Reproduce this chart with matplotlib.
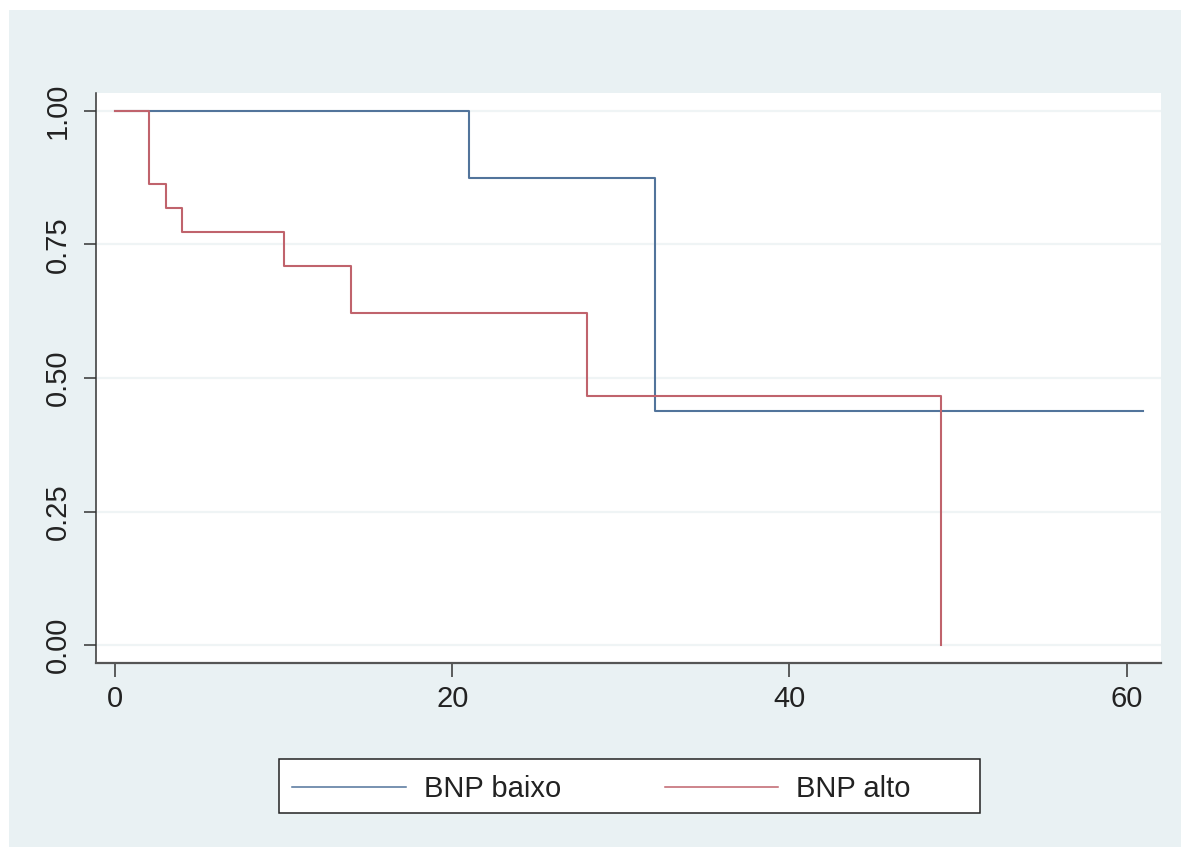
import matplotlib
matplotlib.use("Agg")
import matplotlib.pyplot as plt
from matplotlib.patches import Rectangle

plt.rcParams['font.family'] = ['Liberation Sans', 'DejaVu Sans']

# Kaplan-Meier survival steps
baixo_t = [0, 21, 32, 61]
baixo_s = [1.0, 0.875, 0.4375, 0.4375]

alto_t = [0, 2, 3, 4, 10, 14, 28, 49]
alto_s = [1.0, 0.8636, 0.8182, 0.7727, 0.709, 0.621, 0.466, 0.0]

labels = ["BNP baixo", "BNP alto"]
x_ticks = [0, 20, 40, 60]
y_ticks = [0.0, 0.25, 0.5, 0.75, 1.0]

bg = '#e9f1f3'
blue = '#52749b'
red = '#c0636c'
W, H = 1181, 847

fig = plt.figure(figsize=(W / 100, H / 100), dpi=100, facecolor='white')
fig.patches.append(Rectangle((9 / W, 0), 1, 1 - 10 / H, transform=fig.transFigure,
                             facecolor=bg, edgecolor='none', zorder=-10))

ax = fig.add_axes([96 / W, 1 - 663 / H, (1161 - 96) / W, (663 - 93) / H])
ax.set_facecolor('white')

for y in y_ticks:
    ax.axhline(y, color='#eff4f5', lw=1.6, zorder=0)

l1, = ax.step(baixo_t, baixo_s, where='post', color=blue, lw=1.5, zorder=3)
l2, = ax.step(alto_t, alto_s, where='post', color=red, lw=1.5, zorder=4)

ax.set_xlim(-1.13, 62.04)
ax.set_ylim(-0.0337, 1.0337)
ax.set_xticks(x_ticks)
ax.set_yticks(y_ticks)
ax.set_yticklabels([f"{v:.2f}" for v in y_ticks], rotation=90, va='center')

for s in ['top', 'right']:
    ax.spines[s].set_visible(False)
ax.spines['left'].set_color('#333333')
ax.spines['left'].set_linewidth(1.1)
ax.spines['bottom'].set_color('#555555')
ax.spines['bottom'].set_linewidth(1.6)

ax.tick_params(axis='x', length=10, width=1.1, pad=6, labelsize=21,
               color='#333333', labelcolor='#222222')
ax.tick_params(axis='y', length=8.6, width=1.1, pad=8.5, labelsize=21,
               color='#333333', labelcolor='#222222')

# legend frame drawn as a figure rectangle
fig.patches.append(Rectangle((279 / W, 1 - 813 / H), (980 - 279) / W, (813 - 759) / H,
                             transform=fig.transFigure, facecolor='white',
                             edgecolor='#222222', lw=1.1, zorder=-5))
leg = fig.legend([l1, l2], labels, loc='center left', ncol=2, frameon=False,
                 bbox_to_anchor=(292 / W, 1 - 789 / H), borderaxespad=0, borderpad=0,
                 handlelength=3.9, handletextpad=0.62, columnspacing=3.55,
                 fontsize=21)
for h in leg.get_lines():
    h.set_linewidth(1.1)
for t in leg.get_texts():
    t.set_color('#222222')

fig.savefig('out.png', dpi=100, facecolor='white')
